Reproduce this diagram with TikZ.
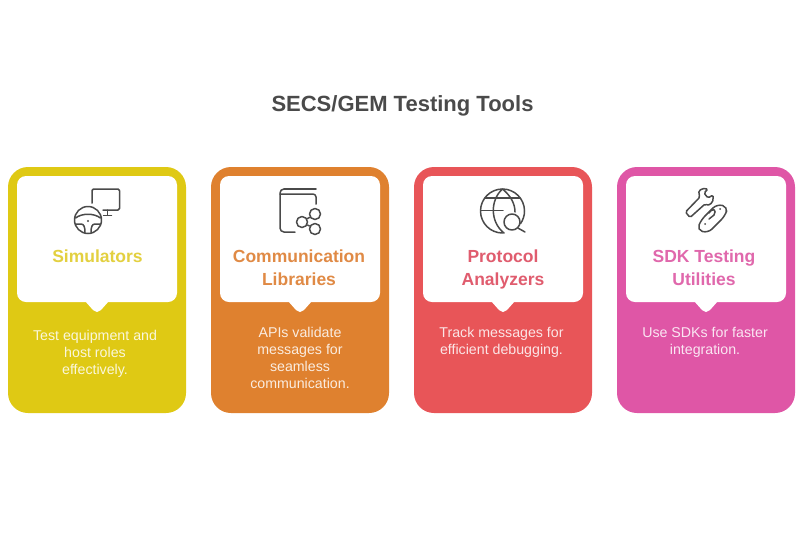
\documentclass[tikz,border=0pt]{standalone}
\usepackage{fontspec}
\setmainfont{Liberation Sans}
\definecolor{simcol}{HTML}{DFC914}
\definecolor{comcol}{HTML}{DF812F}
\definecolor{procol}{HTML}{E85558}
\definecolor{sdkcol}{HTML}{DF56A6}
\definecolor{simhead}{HTML}{E3D040}
\definecolor{comhead}{HTML}{E08A45}
\definecolor{prohead}{HTML}{E05C6E}
\definecolor{sdkhead}{HTML}{E068AC}
\definecolor{inkcol}{HTML}{4A4A4A}
\tikzset{
  outercard/.style={minimum width=178pt,minimum height=246pt,rounded corners=20pt,inner sep=0pt},
  innerpanel/.style={fill=white,minimum width=160pt,minimum height=126pt,rounded corners=9pt,inner sep=0pt},
  headtext/.style={font=\fontsize{17.5}{23}\selectfont\bfseries,align=center,inner sep=0pt},
  desctext/.style={font=\fontsize{14.2}{17}\selectfont,align=center,inner sep=0pt},
  icon/.style={draw=inkcol,line width=1.5pt,line cap=round,line join=round}
}
\begin{document}
\begin{tikzpicture}[x=1pt,y=1pt]
    \useasboundingbox (0,-550) rectangle (800,0);
    \node [font=\fontsize{22}{26}\selectfont\bfseries,text=inkcol,inner sep=0pt] (title) at (402.5,-106) {SECS/GEM Testing Tools};

    % simulators
    \node [outercard,fill=simcol] (simcard) at (97,-290) {};
    \node [innerpanel] (simpanel) at (97,-239) {};
    \fill [white] (85,-301) -- (93,-310) -- (97,-312) -- (101,-310) -- (109,-301);
    \node [headtext,text=simhead] (simhead) at (97.5,-256) {Simulators};
    \node [desctext,text=white!85!simcol] (simdesc) at (95,-354) {Test equipment and\\host roles\\effectively.};
    \draw [icon,rounded corners=1.5pt] (92,-203) -- (92,-189) -- (119.5,-189) -- (119.5,-210) -- (103,-210);
    \draw [icon] (107.5,-210) -- (107.5,-215);
    \draw [icon] (103.5,-215.5) -- (111.5,-215.5);
    \draw [icon] (88,-220) circle (13.5);
    \draw [icon] (75.5,-218) .. controls (82,-213) and (94,-213) .. (100.5,-218);
    \draw [icon] (75.5,-224) -- (81,-224) .. controls (84,-224) and (85,-227) .. (85,-232.5);
    \draw [icon] (100.5,-224) -- (95,-224) .. controls (92,-224) and (91,-227) .. (91,-232.5);
    \fill [inkcol] (88,-221) circle (1.2);

    % communication libraries
    \node [outercard,fill=comcol] (comcard) at (300,-290) {};
    \node [innerpanel] (companel) at (300,-239) {};
    \fill [white] (288,-301) -- (296,-310) -- (300,-312) -- (304,-310) -- (312,-301);
    \node [headtext,text=comhead] (comhead) at (299,-267.5) {Communication\\Libraries};
    \node [desctext,text=white!85!comcol] (comdesc) at (300,-358) {APIs validate\\messages for\\seamless\\communication.};
    \draw [icon] (316,-189) -- (284,-189);
    \draw [icon,rounded corners=3pt] (316,-204) -- (316,-194) -- (280,-194);
    \draw [icon,rounded corners=4pt] (284,-189) -- (280,-189) -- (280,-232) -- (295,-232);
    \node [icon,circle,minimum size=11pt,inner sep=0pt] (comtop) at (315,-214) {};
    \node [icon,circle,minimum size=11pt,inner sep=0pt] (commid) at (302,-222) {};
    \node [icon,circle,minimum size=11pt,inner sep=0pt] (combot) at (315,-229) {};
    \draw [icon] (commid) -- (comtop);
    \draw [icon] (commid) -- (combot);

    % protocol analyzers
    \node [outercard,fill=procol] (procard) at (503,-290) {};
    \node [innerpanel] (propanel) at (503,-239) {};
    \fill [white] (491,-301) -- (499,-310) -- (503,-312) -- (507,-310) -- (515,-301);
    \node [headtext,text=prohead] (prohead) at (503,-269.5) {Protocol\\Analyzers};
    \node [desctext,text=white!85!procol] (prodesc) at (501.5,-342) {Track messages for\\efficient debugging.};
    \draw [icon] (502.5,-233) arc (270:-35:22);
    \draw [icon] (504,-233) .. controls (490,-222) and (490,-200) .. (502.5,-189) .. controls (511,-196) and (515,-204) .. (515,-212);
    \draw [icon] (485,-198) -- (520,-198);
    \draw [icon] (481,-210.5) -- (503,-210.5);
    \node [icon,circle,minimum size=16pt,inner sep=0pt] (prolens) at (512,-222) {};
    \draw [icon] (prolens.south east) -- (525,-232);

    % sdk testing utilities
    \node [outercard,fill=sdkcol] (sdkcard) at (706,-290) {};
    \node [innerpanel] (sdkpanel) at (706,-239) {};
    \fill [white] (694,-301) -- (702,-310) -- (706,-312) -- (710,-310) -- (718,-301);
    \node [headtext,text=sdkhead] (sdkhead) at (704,-267.5) {SDK Testing\\Utilities};
    \node [desctext,text=white!85!sdkcol] (sdkdesc) at (705,-342.5) {Use SDKs for faster\\integration.};
    \draw [icon,rounded corners=1.5pt] (685.5,-212) -- (700,-197) .. controls (697,-190) and (702,-188) .. (708,-189)
      -- (704,-193) -- (708,-198) -- (713,-195) .. controls (714,-203) and (709,-206) .. (705,-204)
      -- (690,-217.5) -- cycle;
    \draw [icon,rounded corners=5.5pt] (701,-220) -- (717,-204) -- (728,-207) -- (725,-216) -- (708,-233) -- (697,-230) -- cycle;
    \draw [icon] (709,-213) .. controls (713,-207) and (717,-210) .. (714,-215) -- (709,-219);
    \fill [inkcol] (720,-209) circle (1);
    \fill [inkcol] (705,-224) circle (1);
\end{tikzpicture}
\end{document}
